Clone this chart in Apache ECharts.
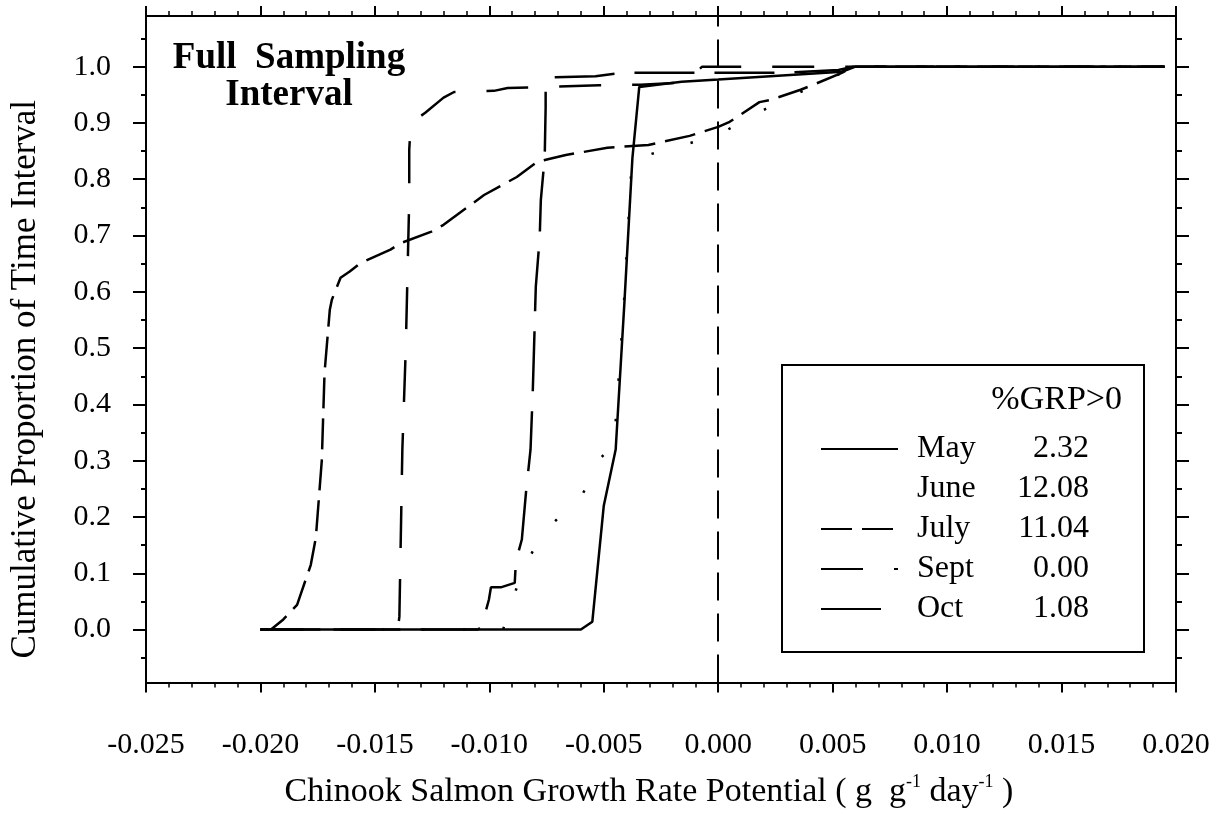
<!DOCTYPE html>
<html>
<head>
<meta charset="utf-8">
<title>Chinook Salmon Growth Rate Potential</title>
<script src="https://cdn.jsdelivr.net/npm/echarts@6/dist/echarts.min.js"></script>
<style>
  html, body { margin: 0; padding: 0; background: #fff; }
  #chart { width: 1230px; height: 814px; }
</style>
</head>
<body>
<div id="chart"></div>
<script>
// Axis ranges and tick labels
const X_MIN = -0.025, X_MAX = 0.020, X_STEP = 0.005;
const Y_MIN = -0.094, Y_MAX = 1.09;
const yTicks = [0.0, 0.1, 0.2, 0.3, 0.4, 0.5, 0.6, 0.7, 0.8, 0.9, 1.0];
const yMinorTicks = [-0.05, 0.05, 0.15, 0.25, 0.35, 0.45, 0.55, 0.65, 0.75, 0.85, 0.95, 1.05];
const zeroGrowth = 0.0;

// Legend entries: month and percent of time with GRP > 0
const months = ['May', 'June', 'July', 'Sept', 'Oct'];
const grpAboveZero = ['2.32', '12.08', '11.04', '0.00', '1.08'];

// Cumulative distributions: [growth rate potential, cumulative proportion]
const may = [
  [-0.0200, 0], [-0.0060, 0], [-0.0055, 0.014], [-0.0050, 0.22], [-0.00448, 0.32],
  [-0.0041, 0.58], [-0.00375, 0.837], [-0.00345, 0.964], [-0.0016, 0.973],
  [0.0, 0.977], [0.0054, 0.991], [0.0060, 1.0], [0.0195, 1.0]
];
const june = [
  [-0.0200, 0], [-0.0094, 0], [-0.0086, 0.10], [-0.00775, 0.167], [-0.0065, 0.218],
  [-0.0060, 0.234], [-0.0052, 0.302], [-0.00455, 0.33], [-0.00412, 0.58],
  [-0.00377, 0.837], [-0.0031, 0.843], [-0.0009, 0.868], [0.0, 0.879],
  [0.0023, 0.930], [0.0045, 0.972], [0.0060, 1.0], [0.0195, 1.0]
];
const july = [
  [-0.0200, 0], [-0.01954, 0], [-0.0190, 0.018], [-0.0184, 0.044], [-0.0178, 0.115],
  [-0.01758, 0.163], [-0.01732, 0.30], [-0.0172, 0.456], [-0.01697, 0.568],
  [-0.01688, 0.586], [-0.0165, 0.625], [-0.0161, 0.636], [-0.01563, 0.651],
  [-0.01432, 0.675], [-0.01384, 0.687], [-0.01253, 0.707], [-0.0120, 0.719],
  [-0.0107, 0.758], [-0.01023, 0.772], [-0.0088, 0.804], [-0.0079, 0.831],
  [-0.00666, 0.843], [-0.00484, 0.856], [-0.00305, 0.861], [-0.00125, 0.877],
  [0.0, 0.893], [0.0005, 0.902], [0.0018, 0.937], [0.0023, 0.941], [0.0036, 0.959],
  [0.0041, 0.967], [0.0054, 0.989], [0.0059, 1.0], [0.0195, 1.0]
];
const sept = [
  [-0.0200, 0], [-0.0140, 0], [-0.01393, 0.023], [-0.0138, 0.32], [-0.01365, 0.50],
  [-0.0135, 0.763], [-0.0135, 0.852], [-0.01343, 0.90], [-0.0128, 0.918],
  [-0.0120, 0.945], [-0.01154, 0.955], [-0.0098, 0.957], [-0.0092, 0.962],
  [-0.0075, 0.964], [-0.0052, 0.967], [-0.0034, 0.968], [-0.0015, 0.972],
  [-0.0007, 1.0], [0.0195, 1.0]
];
const oct = [
  [-0.0200, 0], [-0.0105, 0], [-0.01036, 0.004], [-0.01028, 0.014], [-0.01002, 0.053],
  [-0.00993, 0.075], [-0.0095, 0.075], [-0.00889, 0.083], [-0.00884, 0.121],
  [-0.00858, 0.16], [-0.0084, 0.243], [-0.0082, 0.32], [-0.0081, 0.426],
  [-0.00797, 0.609], [-0.0078, 0.696], [-0.00775, 0.763], [-0.00758, 0.84],
  [-0.00754, 0.928], [-0.00754, 0.962], [-0.00736, 0.981], [-0.00536, 0.983],
  [-0.00427, 0.989], [0.0029, 0.989], [0.00525, 0.994], [0.0059, 1.0], [0.0195, 1.0]
];

const curves = [may, june, july, sept, oct];
const dashes = ['solid', [2.5, 38], [31, 10], [42, 31], [60, 20]];

const FONT = '"Liberation Serif", "Times New Roman", serif';
const INK = '#000';

const chart = echarts.init(document.getElementById('chart'), null, { renderer: 'canvas' });

const tickStyle = { color: INK, width: 2 };
const axisLine = { show: true, onZero: false, lineStyle: { color: INK, width: 2 } };
const noLine = { show: false, onZero: false };

const series = curves.map((data, i) => ({
  name: months[i],
  type: 'line',
  data: data,
  xAxisIndex: 0,
  yAxisIndex: 0,
  showSymbol: false,
  symbol: 'none',
  smooth: false,
  silent: true,
  lineStyle: { color: INK, width: 2.5, type: dashes[i] },
  itemStyle: { color: INK },
  z: 5 - i
}));

// vertical reference line at zero growth
series[0].markLine = {
  silent: true,
  symbol: 'none',
  label: { show: false },
  lineStyle: { color: INK, width: 2, type: [28, 13] },
  data: [{ xAxis: zeroGrowth }]
};

const option = {
  animation: false,
  backgroundColor: '#fff',
  grid: { left: 141.5, right: 54, top: 16, bottom: 131 },
  xAxis: [
    {
      type: 'value', position: 'bottom',
      min: X_MIN, max: X_MAX, interval: X_STEP,
      axisLine: axisLine,
      axisTick: { show: true, length: 10, lineStyle: tickStyle },
      minorTick: { show: true, splitNumber: 5, length: 5, lineStyle: { color: INK, width: 1.5 } },
      splitLine: { show: false },
      axisLabel: {
        formatter: v => v.toFixed(3),
        fontFamily: FONT, fontSize: 30, color: INK, margin: 48
      },
      name: '{t|Chinook Salmon Growth Rate Potential ( g  g}{s|-1}{t| day}{s|-1}{t| )}',
      nameLocation: 'middle',
      nameGap: 91,
      nameTextStyle: {
        padding: [0, 24, 0, 0],
        rich: {
          t: { fontFamily: FONT, fontSize: 34, color: INK, lineHeight: 37 },
          s: { fontFamily: FONT, fontSize: 18, color: INK, lineHeight: 37, verticalAlign: 'top' }
        }
      }
    },
    {
      type: 'value', position: 'top',
      min: X_MIN, max: X_MAX, interval: X_STEP,
      axisLine: axisLine,
      axisTick: { show: true, length: 10, lineStyle: tickStyle },
      minorTick: { show: true, splitNumber: 5, length: 5, lineStyle: { color: INK, width: 1.5 } },
      splitLine: { show: false },
      axisLabel: { show: false }
    }
  ],
  yAxis: [
    {
      type: 'value', position: 'left',
      min: Y_MIN, max: Y_MAX,
      axisLine: axisLine,
      axisTick: { show: true, length: 13, customValues: yTicks, lineStyle: tickStyle },
      splitLine: { show: false },
      axisLabel: {
        customValues: yTicks,
        formatter: v => v.toFixed(1),
        fontFamily: FONT, fontSize: 30, color: INK, margin: 35
      },
      name: 'Cumulative Proportion of Time Interval',
      nameLocation: 'middle',
      nameGap: 103,
      nameTextStyle: { fontFamily: FONT, fontSize: 35, color: INK, padding: [0, 60, 0, 0] }
    },
    {
      type: 'value', position: 'left',
      min: Y_MIN, max: Y_MAX,
      axisLine: noLine,
      axisTick: { show: true, length: 5, customValues: yMinorTicks, lineStyle: tickStyle },
      splitLine: { show: false },
      axisLabel: { show: false }
    },
    {
      type: 'value', position: 'right',
      min: Y_MIN, max: Y_MAX,
      axisLine: axisLine,
      axisTick: { show: true, length: 13, customValues: yTicks, lineStyle: tickStyle },
      splitLine: { show: false },
      axisLabel: { show: false }
    },
    {
      type: 'value', position: 'right',
      min: Y_MIN, max: Y_MAX,
      axisLine: noLine,
      axisTick: { show: true, length: 6, customValues: yMinorTicks, lineStyle: tickStyle },
      splitLine: { show: false },
      axisLabel: { show: false }
    }
  ],
  legend: {
    orient: 'vertical',
    left: 782,
    top: 365,
    padding: [68, 55, 27, 38],
    itemWidth: 77,
    itemHeight: 14,
    itemGap: 8,
    borderColor: INK,
    borderWidth: 2,
    selectedMode: false,
    itemStyle: { opacity: 0, borderWidth: 0 },
    data: months.map(m => m === 'June'
      ? { name: m, lineStyle: { opacity: 0 } }
      : { name: m }),
    formatter: name => '{n|' + name + '}{v|' + grpAboveZero[months.indexOf(name)] + '}',
    textStyle: {
      rich: {
        n: { fontFamily: FONT, fontSize: 32, color: INK, width: 70, lineHeight: 30, padding: [0, 0, 0, 14] },
        v: { fontFamily: FONT, fontSize: 32, color: INK, width: 102, lineHeight: 30, align: 'right' }
      }
    }
  },
  graphic: [
    {
      type: 'text', x: 289, y: 77, silent: true,
      style: {
        text: 'Full  Sampling\nInterval',
        fill: INK, font: 'bold 37px ' + FONT,
        textAlign: 'center', textVerticalAlign: 'middle', lineHeight: 37
      }
    },
    {
      type: 'text', x: 1122, y: 400, silent: true,
      style: {
        text: '%GRP>0', fill: INK, font: '34px ' + FONT,
        textAlign: 'right', textVerticalAlign: 'middle'
      }
    }
  ],
  series: series
};

chart.setOption(option);
</script>
</body>
</html>
